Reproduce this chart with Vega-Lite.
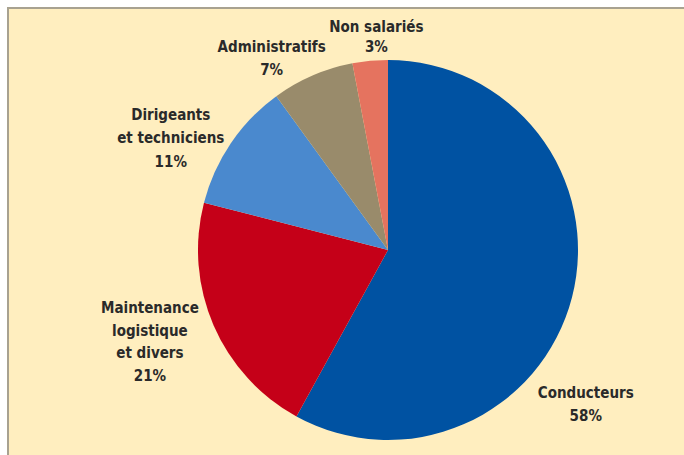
{
  "$schema": "https://vega.github.io/schema/vega-lite/v6.json",
  "autosize": "none",
  "padding": {"top": 8, "left": 8, "right": 0, "bottom": 0},
  "width": 760,
  "height": 484,
  "background": "white",
  "view": {"fill": "#FFEEBF", "stroke": "#A8A290", "strokeWidth": 2},
  "data": {"values": [
    {"cat": "Conducteurs", "value": 58, "label": "Conducteurs\n58%"},
    {"cat": "Maintenance", "value": 21, "label": "Maintenance\nlogistique\net divers\n21%"},
    {"cat": "Dirigeants", "value": 11, "label": "Dirigeants\net techniciens\n11%"},
    {"cat": "Administratifs", "value": 7, "label": "Administratifs\n7%"},
    {"cat": "Non salariés", "value": 3, "label": "Non salariés\n3%"}
  ]},
  "transform": [{"window": [{"op": "row_number", "as": "rank"}]}],
  "encoding": {
    "theta": {"field": "value", "type": "quantitative", "stack": true},
    "order": {"field": "rank", "type": "quantitative"}
  },
  "layer": [
    {
      "mark": {"type": "arc", "outerRadius": 190, "strokeWidth": 0},
      "encoding": {
        "color": {"field": "cat", "type": "nominal", "legend": null,
          "scale": {"domain": ["Conducteurs", "Maintenance", "Dirigeants", "Administratifs", "Non salariés"],
                    "range": ["#0052A2", "#C50018", "#4A89CE", "#998B6B", "#E5735F"]}}
      }
    },
    {
      "mark": {"type": "text", "radius": 230, "dx": -25, "dy": 86, "font": "Liberation Sans Narrow, DejaVu Sans Condensed, Liberation Sans", "fontWeight": "bold", "fontSize": 15, "lineHeight": 23, "lineBreak": "\n", "align": "center", "baseline": "middle", "color": "#2A2A2A"},
      "encoding": {"text": {"condition": {"test": "datum.cat === 'Conducteurs'", "field": "label"}, "value": ""}}
    },
    {
      "mark": {"type": "text", "radius": 230, "dx": -27, "dy": -33, "font": "Liberation Sans Narrow, DejaVu Sans Condensed, Liberation Sans", "fontWeight": "bold", "fontSize": 15, "lineHeight": 22.5, "lineBreak": "\n", "align": "center", "baseline": "middle", "color": "#2A2A2A"},
      "encoding": {"text": {"condition": {"test": "datum.cat === 'Maintenance'", "field": "label"}, "value": ""}}
    },
    {
      "mark": {"type": "text", "radius": 230, "dx": -27, "dy": -6, "font": "Liberation Sans Narrow, DejaVu Sans Condensed, Liberation Sans", "fontWeight": "bold", "fontSize": 15, "lineHeight": 23.5, "lineBreak": "\n", "align": "center", "baseline": "middle", "color": "#2A2A2A"},
      "encoding": {"text": {"condition": {"test": "datum.cat === 'Dirigeants'", "field": "label"}, "value": ""}}
    },
    {
      "mark": {"type": "text", "radius": 230, "dx": -25, "dy": 8, "font": "Liberation Sans Narrow, DejaVu Sans Condensed, Liberation Sans", "fontWeight": "bold", "fontSize": 15, "lineHeight": 23, "lineBreak": "\n", "align": "center", "baseline": "middle", "color": "#2A2A2A"},
      "encoding": {"text": {"condition": {"test": "datum.cat === 'Administratifs'", "field": "label"}, "value": ""}}
    },
    {
      "mark": {"type": "text", "radius": 230, "dx": 10, "dy": 6, "font": "Liberation Sans Narrow, DejaVu Sans Condensed, Liberation Sans", "fontWeight": "bold", "fontSize": 15, "lineHeight": 20, "lineBreak": "\n", "align": "center", "baseline": "middle", "color": "#2A2A2A"},
      "encoding": {"text": {"condition": {"test": "datum.cat === 'Non salariés'", "field": "label"}, "value": ""}}
    }
  ]
}
